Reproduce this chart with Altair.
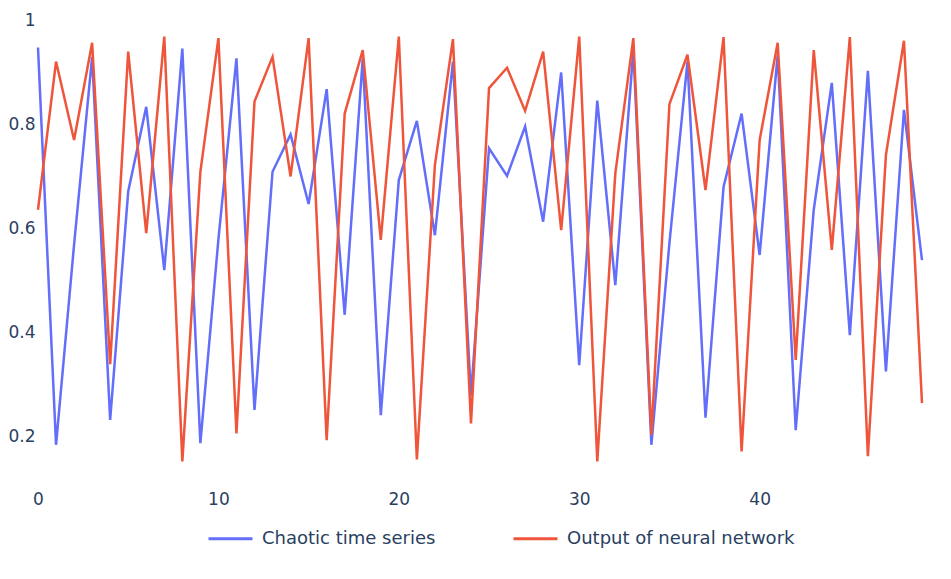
import altair as alt
import pandas as pd

series_names = ["Chaotic time series", "Output of neural network"]
series_colors = ["#636efa", "#EF553B"]

chaotic = [0.949, 0.185, 0.570, 0.931, 0.233, 0.672, 0.835, 0.521, 0.947, 0.188,
           0.580, 0.928, 0.252, 0.710, 0.782, 0.648, 0.869, 0.435, 0.928, 0.242,
           0.694, 0.808, 0.588, 0.922, 0.280, 0.755, 0.702, 0.797, 0.614, 0.901,
           0.338, 0.847, 0.492, 0.945, 0.185, 0.573, 0.922, 0.237, 0.681, 0.822,
           0.550, 0.935, 0.213, 0.637, 0.881, 0.396, 0.904, 0.326, 0.829, 0.540]

network = [0.637, 0.922, 0.771, 0.958, 0.340, 0.941, 0.592, 0.970, 0.153, 0.710,
           0.967, 0.207, 0.845, 0.931, 0.701, 0.967, 0.194, 0.822, 0.944, 0.579,
           0.970, 0.157, 0.723, 0.965, 0.226, 0.871, 0.910, 0.827, 0.941, 0.598,
           0.970, 0.153, 0.707, 0.967, 0.204, 0.840, 0.935, 0.675, 0.969, 0.172,
           0.771, 0.958, 0.348, 0.944, 0.560, 0.969, 0.163, 0.742, 0.962, 0.265]

x_ticks = [0, 10, 20, 30, 40]
y_ticks = [0.2, 0.4, 0.6, 0.8, 1]

rows = []
for name, vals in zip(series_names, [chaotic, network]):
    for i, v in enumerate(vals):
        rows.append({"step": i, "value": v, "series": name})
df = pd.DataFrame(rows)

FONT = "DejaVu Sans"
TXT = "#2a3f5f"

chart = alt.Chart(df).mark_line(strokeWidth=2.5).encode(
    x=alt.X("step:Q", scale=alt.Scale(domain=[0, 49], nice=False, zero=False),
            axis=alt.Axis(values=x_ticks, title=None, labelPadding=8, format="d",
                          labelFlush=False)),
    y=alt.Y("value:Q", scale=alt.Scale(domain=[0.1115, 1.0115], nice=False, zero=False),
            axis=alt.Axis(values=y_ticks, title=None, labelPadding=3, format="~g",
                          labelFlush=False)),
    color=alt.Color("series:N",
                    scale=alt.Scale(domain=series_names, range=series_colors),
                    legend=alt.Legend(title=None, orient="none", legendX=169, legendY=500,
                                      direction="horizontal", symbolType="stroke",
                                      symbolSize=1936, symbolStrokeWidth=3,
                                      labelFontSize=18, labelFont=FONT, labelColor=TXT,
                                      labelOffset=8, columnPadding=71, padding=0,
                                      labelLimit=0)),
).properties(
    width=884, height=468,
    autosize=alt.AutoSizeParams(type="none"),
    padding={"left": 30, "top": 7, "right": 20, "bottom": 80},
).configure_view(stroke=None).configure_axis(
    domain=False, ticks=False, grid=False,
    labelFont=FONT, labelFontSize=17, labelColor=TXT,
)

chart.save("out.html", embed_options={"renderer": "svg", "actions": False})
